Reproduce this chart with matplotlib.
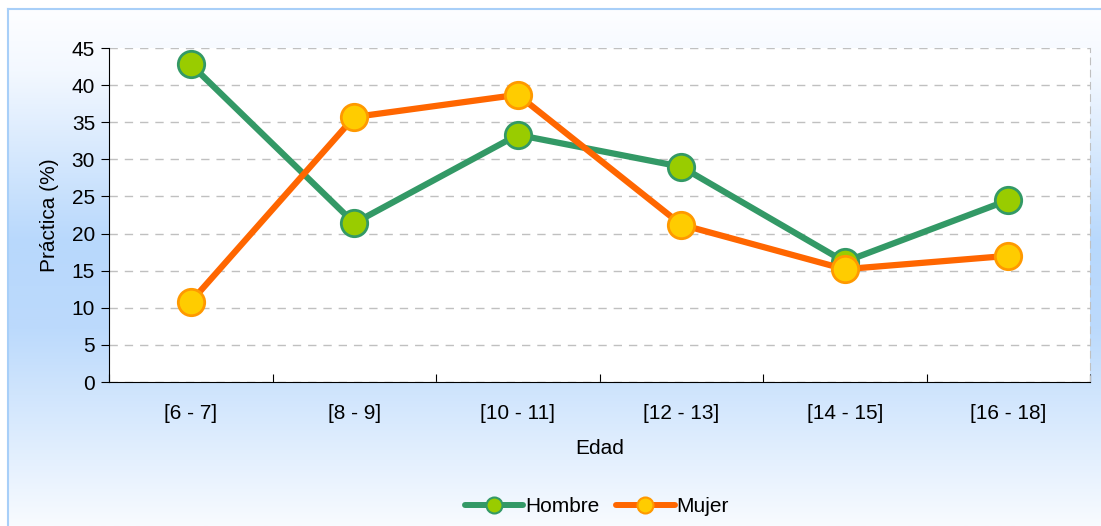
import matplotlib
matplotlib.use("Agg")
import matplotlib.pyplot as plt
import numpy as np
from matplotlib.lines import Line2D
from matplotlib.colors import LinearSegmentedColormap

categories = ["[6 - 7]", "[8 - 9]", "[10 - 11]", "[12 - 13]", "[14 - 15]", "[16 - 18]"]
hombre = [42.8, 21.4, 33.3, 29.0, 16.2, 24.5]
mujer = [10.8, 35.7, 38.7, 21.2, 15.2, 17.0]
yticks = [0, 5, 10, 15, 20, 25, 30, 35, 40, 45]

plt.rcParams['font.family'] = ['Liberation Sans', 'DejaVu Sans']
FS = 15

W, H = 1101, 526
fig = plt.figure(figsize=(W / 100, H / 100), dpi=100)
fig.patch.set_facecolor('white')

# background gradient panel
bg = fig.add_axes([8 / W, 0, 1 - 8 / W, 1 - 9 / H])
bg.set_axis_off()
cmap = LinearSegmentedColormap.from_list(
    'g', [(0.0, '#fdfeff'), (0.12, '#f3f8ff'), (0.45, '#b8d8fc'), (0.62, '#bcdafc'), (1.0, '#f8fbff')])
grad = np.linspace(0, 1, 256).reshape(-1, 1)
bg.imshow(grad, aspect='auto', cmap=cmap, extent=[0, 1, 0, 1], origin='upper')
bg.set_xlim(0, 1)
bg.set_ylim(0, 1)
bg.plot([0, 0], [0, 1], color='#a8cff8', lw=1.5, clip_on=False)
bg.plot([0, 1], [1, 1], color='#a8cff8', lw=1.5, clip_on=False)

left, right, top, bottom = 109, 1090, 48, 382
ax = fig.add_axes([left / W, 1 - bottom / H, (right - left) / W, (bottom - top) / H])
ax.set_facecolor('white')

x = np.arange(len(categories))
ax.plot(x, hombre, color='#339966', lw=4.5, marker='o', markersize=19,
        markerfacecolor='#99cc00', markeredgecolor='#339966', markeredgewidth=2, zorder=3,
        solid_capstyle='round')
ax.plot(x, mujer, color='#ff6600', lw=4.5, marker='o', markersize=19,
        markerfacecolor='#ffcc00', markeredgecolor='#ff9900', markeredgewidth=2, zorder=3,
        solid_capstyle='round')

ax.set_xlim(-0.5, len(categories) - 0.5)
ax.set_ylim(0, 45)
ax.set_yticks(yticks)
ax.set_xticks(np.arange(len(categories) + 1) - 0.5)
ax.set_xticklabels([])
ax.set_xticks(x, minor=True)
ax.set_xticklabels(categories, minor=True, fontsize=FS)
ax.tick_params(axis='x', which='minor', length=0, pad=16)
ax.tick_params(axis='x', which='major', length=6, direction='in', color='#000000')
ax.tick_params(axis='y', length=6, direction='out', labelsize=FS, pad=4)
ax.grid(axis='y', color='#c0c0c0', linestyle=(0, (6, 5)), lw=1)
ax.set_axisbelow(True)
ax.spines['top'].set_visible(False)
ax.spines['right'].set_color('#c0c0c0')
ax.spines['right'].set_linestyle((0, (6, 5)))
ax.spines['left'].set_color('black')
ax.spines['bottom'].set_color('black')
ax.set_ylabel('Práctica (%)', fontsize=FS, labelpad=9)
ax.set_xlabel('Edad', fontsize=FS, labelpad=11)

handles = [
    Line2D([0], [0], color='#339966', lw=4.3, marker='o', markersize=11.5,
           markerfacecolor='#99cc00', markeredgecolor='#339966', markeredgewidth=1.5, solid_capstyle='round'),
    Line2D([0], [0], color='#ff6600', lw=4.3, marker='o', markersize=11.5,
           markerfacecolor='#ffcc00', markeredgecolor='#ff9900', markeredgewidth=1.5, solid_capstyle='round'),
]
fig.legend(handles, ['Hombre', 'Mujer'], loc='center', bbox_to_anchor=(597 / W, 1 - 507 / H),
           ncol=2, frameon=False, fontsize=FS, handlelength=2.8, handletextpad=0.1,
           columnspacing=0.8)

fig.savefig('out.png', dpi=100)
